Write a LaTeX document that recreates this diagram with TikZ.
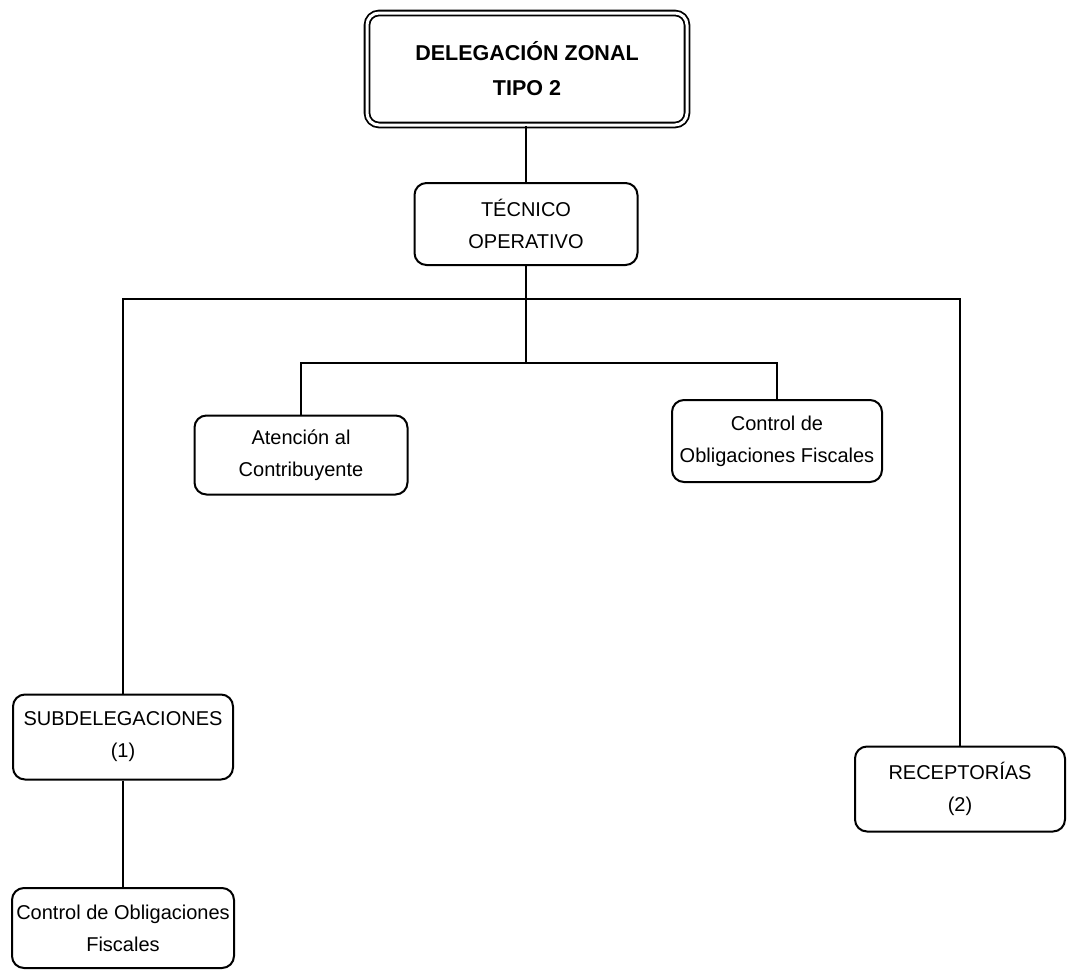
\documentclass[tikz,border=0pt]{standalone}
\usepackage{fontspec}
\setmainfont{Liberation Sans}
\usetikzlibrary{positioning}

\begin{document}
\begin{tikzpicture}[x=1pt,y=-1pt,
	org/.style={draw, rounded corners=12pt, line width=2pt, align=center, inner sep=0pt, font=\fontsize{20}{32}\selectfont},
	jefe/.style={org, double, double distance=3pt, line width=1.8pt, font=\fontsize{21.5}{35}\selectfont\bfseries},
	conn/.style={line width=1.8pt}]
		\useasboundingbox (0,0) rectangle (1071,972);
		
		\node[jefe, minimum width=320pt, minimum height=112pt] (dz) at (527,69) {DELEGACIÓN ZONAL\\TIPO 2};
		\node[org, minimum width=223pt, minimum height=82pt] (tec) at (526,224) {TÉCNICO\\OPERATIVO};
		\node[org, minimum width=213pt, minimum height=79pt] (aten) at (301,455) {Atención al\\Contribuyente};
		\node[org, minimum width=210pt, minimum height=82pt] (cof) at (777,441) {Control de\\Obligaciones Fiscales};
		\node[org, minimum width=220pt, minimum height=85pt] (sub) at (123,737) {SUBDELEGACIONES\\(1)};
		\node[org, minimum width=210pt, minimum height=85pt] (rec) at (960,789) {RECEPTORÍAS\\(2)};
		\node[org, minimum width=222pt, minimum height=80pt] (cof2) at (123,928) {Control de Obligaciones\\Fiscales};
		
		\coordinate (bus) at (526,299);
		\coordinate (mid) at (526,363);
		
		\draw[conn] (dz.south -| tec.north) -- (tec.north);
		\draw[conn] (tec.south) -- (mid);
		\draw[conn] (sub.north) |- (rec.north |- bus) -- (rec.north);
		\draw[conn] (aten.north) |- (mid) -| (cof.north);
		\draw[conn] (sub.south) -- (cof2.north);
\end{tikzpicture}
\end{document}
